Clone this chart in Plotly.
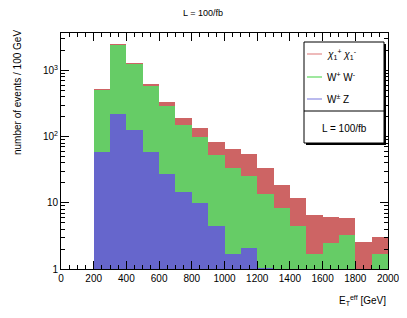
import plotly.graph_objects as go

# ---- data (events per 100 GeV bin, individual contributions) ----
bin_low = [200, 300, 400, 500, 600, 700, 800, 900, 1000, 1100, 1200, 1300, 1400, 1500, 1600, 1700, 1800, 1900]
wz = [58, 219, 127, 58, 27, 14.7, 10, 4.5, 1.7, 2.1, 1.05, 0, 0, 0, 0, 0, 0, 0]
ww = [448, 2226, 1153, 529, 263, 135, 90, 48.5, 32.3, 22.9, 12.35, 8.3, 4.5, 1.7, 2.5, 3.3, 0.5, 1.7]
chi = [2, 15, 10, 36, 43, 39, 33, 29, 30, 29, 20.6, 10.3, 7.2, 4.8, 3.7, 2.5, 2.1, 1.3]
bin_width = 100

x_ticks = [0, 200, 400, 600, 800, 1000, 1200, 1400, 1600, 1800, 2000]
y_tickvals = [1, 10, 100, 1000]
y_ticktext = ["1", "10", "10<sup>2</sup>", "10<sup>3</sup>"]

labels = ["<i>χ</i><sub>1</sub><sup>+</sup> <i>χ</i><sub>1</sub><sup>-</sup>", "W<sup>+</sup> W<sup>-</sup>", "W<sup>±</sup> Z"]
fill_colors = {"chi": "#CD6464", "ww": "#66CC66", "wz": "#6666CC"}
line_colors = {"chi": "#E8A3A3", "ww": "#7FE07F", "wz": "#A3A3E8"}

OFF = 8  # page body margin offset
W, H = 407 - OFF, 318 - OFF
L, R, T, B = 61, 388, 33, 269  # target pixel frame in the window

def px(xp):
    return (xp - L) / (R - L)

def py(yp):
    return (B - yp) / (B - T)

centers = [b + bin_width / 2 for b in bin_low]
font = "Liberation Sans, Arial, sans-serif"

fig = go.Figure()
for vals, key in [(wz, "wz"), (ww, "ww"), (chi, "chi")]:
    fig.add_trace(go.Bar(x=centers, y=vals, width=[bin_width] * len(vals),
                         marker=dict(color=fill_colors[key], line=dict(width=0)),
                         showlegend=False))

fig.update_layout(
    width=W, height=H, barmode="stack", bargap=0,
    margin=dict(l=L - OFF, r=407 - R, t=T - OFF, b=318 - B, autoexpand=False),
    paper_bgcolor="white", plot_bgcolor="white",
    font=dict(family=font, size=10, color="black"),
    xaxis=dict(range=[0, 2000], tickvals=x_ticks, ticks="inside", ticklen=8,
               tickcolor="black", showgrid=False, zeroline=False, mirror="allticks",
               showline=True, linecolor="black", linewidth=1,
               minor=dict(dtick=50, ticks="inside", ticklen=4, tickcolor="black"),
               tickfont=dict(size=10)),
    yaxis=dict(type="log", range=[0, 3.565], tickvals=y_tickvals, ticktext=y_ticktext,
               ticks="inside", ticklen=8, tickcolor="black", showgrid=False,
               zeroline=False, mirror="allticks", showline=True, linecolor="black",
               linewidth=1,
               minor=dict(ticks="inside", ticklen=4, tickcolor="black",
                          tickvals=[m * 10 ** e for e in range(0, 4) for m in range(2, 10)]),
               tickfont=dict(size=10)),
)

def ann(xp, yp, text, size=10, xanchor="center", angle=0):
    fig.add_annotation(x=px(xp), y=py(yp), xref="paper", yref="paper", text=text,
                       showarrow=False, xanchor=xanchor, yanchor="middle",
                       textangle=angle, font=dict(size=size))

# title, axis titles
ann(203, 13, "L = 100/fb", size=9)
ann(388, 300, "E<sub>T</sub><sup>eff</sup> [GeV]", xanchor="right")
ann(17, 93, "number of events / 100 GeV", angle=-90)

# legend box (drawn manually, ROOT style with shadow)
bx0, bx1, by0, by1 = 304, 384, 42, 143
fig.add_shape(type="rect", xref="paper", yref="paper",
              x0=px(bx0 + 2), x1=px(bx1 + 2), y0=py(by1 + 2), y1=py(by0 + 2),
              fillcolor="black", line=dict(width=0), layer="above")
fig.add_shape(type="rect", xref="paper", yref="paper",
              x0=px(bx0), x1=px(bx1), y0=py(by1), y1=py(by0),
              fillcolor="white", line=dict(color="black", width=1), layer="above")
fig.add_shape(type="line", xref="paper", yref="paper",
              x0=px(bx0), x1=px(bx1), y0=py(111), y1=py(111),
              line=dict(color="black", width=1), layer="above")
for lab, key, yp in [(labels[0], "chi", 54), (labels[1], "ww", 77), (labels[2], "wz", 99)]:
    fig.add_shape(type="line", xref="paper", yref="paper",
                  x0=px(307), x1=px(322), y0=py(yp), y1=py(yp),
                  line=dict(color=line_colors[key], width=1.5), layer="above")
    ann(325, yp, lab, xanchor="left")
ann((bx0 + bx1) / 2, 128, "L = 100/fb")

fig.write_html("out.html")
